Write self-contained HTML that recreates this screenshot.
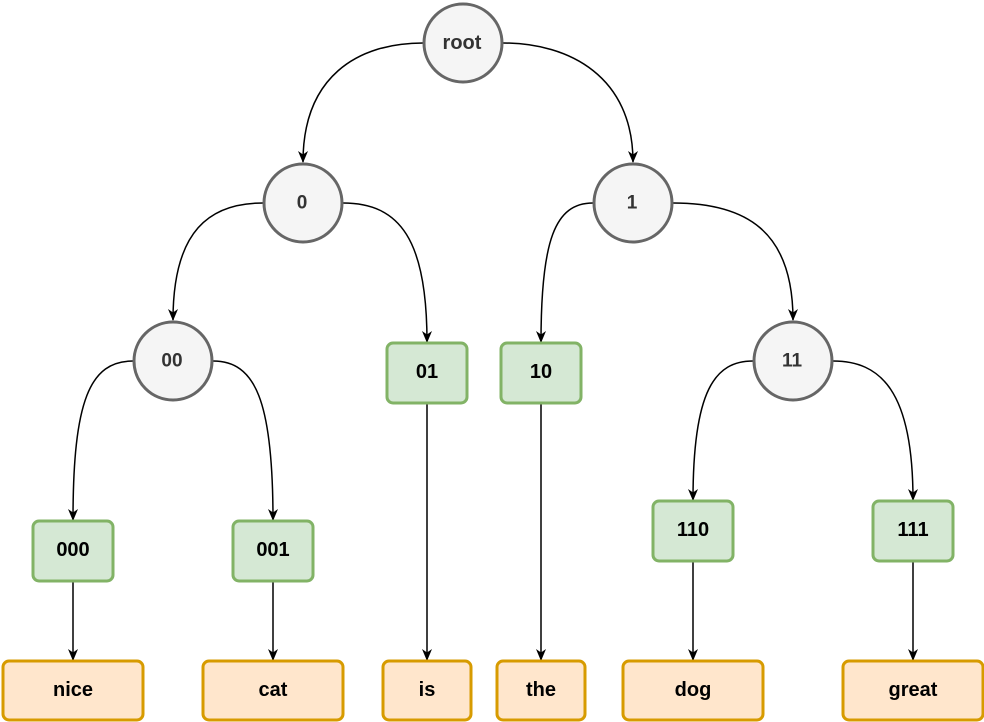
<!DOCTYPE html>
<html><head><style>body{margin:0;background:#fff}svg{display:block}text{font-family:"Liberation Sans",sans-serif;font-weight:bold;text-anchor:middle;dominant-baseline:central}</style></head>
<body>
<svg width="984" height="722" viewBox="0 0 984 722">
<defs><marker id="a" markerWidth="12" markerHeight="12" refX="11" refY="6" orient="auto" markerUnits="userSpaceOnUse"><path d="M0,1 L12,6 L0,11 L3.5,6 Z" fill="#000"/></marker></defs>
<g fill="none" stroke="#000" stroke-width="1.5" marker-end="url(#a)">
<path d="M423,43 C357,43 303,77 303,162"/>
<path d="M503,43 C570,43 633,77 633,162"/>
<path d="M263,203 C210,203 173,230 173,320"/>
<path d="M343,203 C400,203 427,240 427,342"/>
<path d="M593,203 C555,203 541,240 541,342"/>
<path d="M673,203 C745,203 793,230 793,320"/>
<path d="M133,361 C90,361 73,400 73,520"/>
<path d="M213,361 C255,361 273,400 273,520"/>
<path d="M753,361 C715,361 693,390 693,500"/>
<path d="M833,361 C880,361 913,390 913,500"/>
<path d="M427,403 L427,660"/>
<path d="M541,403 L541,660"/>
<path d="M73,581 L73,660"/>
<path d="M273,581 L273,660"/>
<path d="M693,561 L693,660"/>
<path d="M913,561 L913,660"/>
</g>
<g fill="#f5f5f5" stroke="#666" stroke-width="3">
<circle cx="463" cy="43" r="39"/><circle cx="303" cy="203" r="39"/><circle cx="633" cy="203" r="39"/><circle cx="173" cy="361" r="39"/><circle cx="793" cy="361" r="39"/>
</g>
<g fill="#333" font-size="20"><text x="462" y="43">root</text></g>
<g fill="#333" font-size="19"><text x="302" y="203">0</text><text x="632" y="203">1</text><text x="172" y="361">00</text><text x="792" y="361">11</text></g>
<g fill="#d5e8d4" stroke="#82b366" stroke-width="3">
<rect x="387" y="343" width="80" height="60" rx="6"/><rect x="501" y="343" width="80" height="60" rx="6"/>
<rect x="33" y="521" width="80" height="60" rx="6"/><rect x="233" y="521" width="80" height="60" rx="6"/>
<rect x="653" y="501" width="80" height="60" rx="6"/><rect x="873" y="501" width="80" height="60" rx="6"/>
</g>
<g fill="#ffe6cc" stroke="#d79b00" stroke-width="3">
<rect x="3" y="661" width="140" height="59" rx="6"/><rect x="203" y="661" width="140" height="59" rx="6"/>
<rect x="383" y="661" width="88" height="59" rx="6"/><rect x="497" y="661" width="88" height="59" rx="6"/>
<rect x="623" y="661" width="140" height="59" rx="6"/><rect x="843" y="661" width="140" height="59" rx="6"/>
</g>
<g fill="#000" font-size="20">
<text x="427" y="372">01</text><text x="541" y="372">10</text><text x="73" y="550">000</text><text x="273" y="550">001</text><text x="693" y="530">110</text><text x="913" y="530">111</text>
<text x="73" y="690">nice</text><text x="273" y="690">cat</text><text x="427" y="690">is</text><text x="541" y="690">the</text><text x="693" y="690">dog</text><text x="913" y="690">great</text>
</g>
</svg>
</body></html>
